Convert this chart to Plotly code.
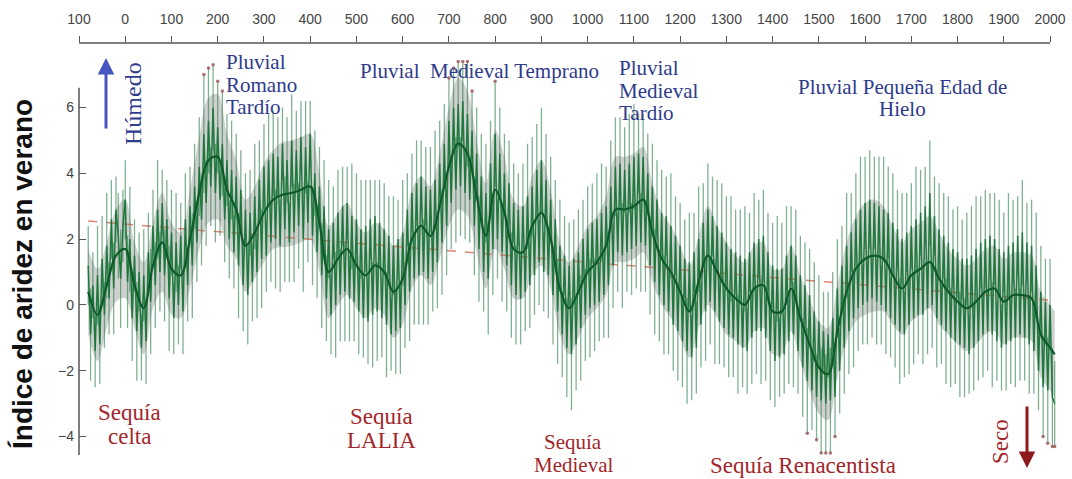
import plotly.graph_objects as go

# ---------------- data ----------------
years = list(range(-80, 2011, 5))
aridity = [
    1.2, -0.9, 0.6, -1.4, 0.9, -1.2, 1.4, -0.3, 1.8, 0.2, 2.6, 0.5, 2.9, 2.1, 0.8, 2.4, 3.2, 0.7, 2.0, -0.4,
    1.5, -0.8, 1.0, -1.3, 0.9, -1.1, 1.6, 0.1, 2.4, 0.6, 2.9, 1.0, 3.1, 0.9, 2.6, 0.2, 2.2, -0.4, 1.9, 0.0,
    2.1, -0.2, 2.6, 0.6, 3.0, 1.2, 3.6, 1.9, 4.2, 2.6, 5.2, 3.1, 5.6, 3.6, 6.0, 3.4, 5.4, 3.2, 4.9, 2.6,
    4.4, 2.0, 4.1, 1.6, 3.9, 1.2, 3.5, 0.6, 2.9, 0.3, 2.8, 0.7, 3.3, 1.0, 3.8, 1.4, 4.2, 1.5, 4.4, 1.9,
    4.6, 2.0, 4.5, 1.8, 4.9, 2.3, 4.4, 1.9, 5.0, 2.2, 4.7, 2.4, 5.1, 2.0, 4.8, 2.5, 5.2, 2.1, 4.0, 1.6,
    3.6, 0.9, 3.0, 0.2, 2.3, -0.3, 2.5, 0.0, 2.8, 0.3, 3.0, 0.4, 3.1, 0.2, 2.7, 0.1, 2.6, -0.2, 2.3, -0.4,
    2.4, -0.5, 2.6, -0.3, 2.7, -0.2, 2.5, -0.4, 2.3, -0.6, 2.1, -0.9, 1.8, -0.8, 2.0, -0.7, 2.2, 0.0, 2.9, 0.4,
    3.4, 0.8, 3.7, 0.9, 3.9, 1.0, 3.6, 0.8, 3.5, 1.0, 3.8, 1.3, 4.3, 1.9, 4.9, 2.4, 5.6, 3.1, 6.0, 3.5,
    6.1, 3.6, 6.2, 3.4, 5.8, 3.2, 5.3, 2.4, 4.6, 1.7, 3.9, 1.0, 3.4, 0.8, 4.3, 1.7, 5.2, 2.0, 4.6, 1.6,
    4.0, 1.2, 3.7, 0.6, 3.1, 0.3, 2.9, 0.2, 3.0, 0.4, 3.3, 0.6, 3.6, 0.9, 4.1, 1.3, 4.4, 1.0, 3.8, 0.9,
    3.2, 0.3, 2.6, -0.2, 1.8, -0.9, 1.5, -1.3, 1.2, -1.5, 1.4, -1.2, 1.6, -0.7, 2.0, -0.3, 2.3, -0.1, 2.5, 0.0,
    2.6, 0.1, 2.8, 0.3, 3.0, 0.6, 3.6, 1.2, 4.2, 1.6, 4.3, 1.5, 4.1, 1.6, 4.3, 1.7, 4.5, 1.8, 4.6, 1.9,
    4.5, 1.8, 4.0, 1.2, 3.6, 0.7, 3.2, 0.3, 2.8, 0.0, 2.7, -0.2, 2.4, -0.6, 2.1, -0.8, 1.8, -1.1, 1.4, -1.4,
    1.3, -1.6, 1.6, -1.3, 2.0, -0.6, 2.5, -0.2, 2.9, 0.1, 2.7, -0.2, 2.4, -0.5, 2.2, -0.7, 1.9, -0.9, 1.7, -1.0,
    1.6, -1.2, 1.5, -1.3, 1.4, -1.4, 1.6, -1.0, 1.9, -0.8, 2.0, -0.8, 2.1, -1.0, 1.6, -1.4, 1.2, -1.7, 1.1, -1.6,
    1.1, -1.5, 1.5, -1.1, 1.8, -0.9, 1.5, -1.4, 0.9, -1.9, 0.6, -2.3, 0.3, -2.6, -0.2, -2.8, -0.5, -2.9, -0.8, -3.0,
    -0.9, -2.9, -0.4, -2.8, 0.5, -2.0, 1.2, -1.3, 1.8, -0.8, 2.2, -0.4, 2.6, -0.1, 2.9, 0.0, 3.1, 0.1, 3.2, 0.2,
    3.1, 0.1, 3.0, 0.0, 2.9, -0.2, 2.8, -0.4, 2.5, -0.6, 2.3, -0.8, 2.0, -0.9, 2.2, -0.6, 2.4, -0.4, 2.6, -0.3,
    2.8, -0.3, 3.0, -0.1, 3.4, 0.0, 2.7, -0.4, 2.3, -0.6, 2.1, -0.8, 1.9, -1.0, 1.7, -1.1, 1.6, -1.2, 1.4, -1.3,
    1.4, -1.5, 1.5, -1.3, 1.7, -1.1, 1.9, -0.9, 2.0, -0.8, 2.1, -0.9, 2.0, -1.1, 1.7, -1.3, 1.6, -1.2, 1.8, -1.1,
    1.9, -1.0, 2.1, -0.9, 2.2, -1.0, 1.9, -1.2, 1.8, -1.4, 1.2, -2.0, 0.4, -2.5, 0.1, -2.6, 0.0, -2.8, -3.0,
]
uncert = [
    1.2, 1.4, 1.0, 1.1, 1.5, 1.2, 1.3, 1.0, 1.6, 1.1, 1.2, 1.4, 1.0, 1.3, 1.5, 1.1, 1.2, 1.4, 1.6, 1.3,
    1.1, 1.5, 1.2, 1.0, 1.4, 1.3, 1.2, 1.6, 1.1, 1.3, 1.5, 1.2, 1.0, 1.4, 1.2, 1.6, 1.3, 1.1, 1.5, 1.2,
    1.0, 1.3, 1.4, 1.1, 1.2, 1.6, 1.3, 1.2, 1.5, 1.4, 1.8, 1.3, 1.6, 1.2, 1.3, 1.5, 1.4, 1.1, 1.6, 1.3,
    1.4, 1.2, 1.5, 1.1, 1.3, 1.6, 1.2, 1.4, 1.1, 1.5, 1.3, 1.2, 1.6, 1.4, 1.2, 1.5, 1.3, 1.1, 1.4, 1.2,
    1.3, 1.5, 1.2, 1.4, 1.1, 1.6, 1.3, 1.2, 1.4, 1.5, 1.2, 1.3, 1.1, 1.6, 1.4, 1.2, 1.0, 1.5, 1.3, 1.4,
    1.2, 1.6, 1.4, 1.3, 1.5, 1.2, 1.1, 1.6, 1.3, 1.4, 1.2, 1.5, 1.1, 1.3, 1.6, 1.2, 1.4, 1.3, 1.5, 1.2,
    1.4, 1.3, 1.2, 1.6, 1.1, 1.5, 1.3, 1.2, 1.4, 1.6, 1.2, 1.1, 1.5, 1.3, 1.2, 1.4, 1.6, 1.3, 1.1, 1.5,
    1.2, 1.4, 1.3, 1.5, 1.1, 1.6, 1.2, 1.4, 1.3, 1.2, 1.5, 1.4, 1.3, 1.6, 1.2, 1.5, 1.3, 1.4, 1.2, 1.6,
    1.3, 1.5, 1.2, 1.4, 1.6, 1.3, 1.2, 1.5, 1.4, 1.6, 1.3, 1.2, 1.5, 1.7, 1.3, 1.4, 1.6, 1.2, 1.4, 1.5,
    1.2, 1.4, 1.3, 1.6, 1.2, 1.5, 1.1, 1.4, 1.3, 1.2, 1.6, 1.3, 1.5, 1.2, 1.4, 1.3, 1.6, 1.2, 1.4, 1.3,
    1.3, 1.5, 1.2, 1.6, 1.4, 1.3, 1.2, 1.5, 1.3, 1.7, 1.2, 1.4, 1.3, 1.6, 1.2, 1.4, 1.3, 1.5, 1.2, 1.4,
    1.4, 1.2, 1.5, 1.3, 1.2, 1.6, 1.4, 1.3, 1.5, 1.2, 1.4, 1.6, 1.3, 1.2, 1.5, 1.4, 1.6, 1.3, 1.2, 1.5,
    1.3, 1.4, 1.2, 1.5, 1.3, 1.6, 1.2, 1.4, 1.3, 1.5, 1.2, 1.3, 1.6, 1.4, 1.2, 1.5, 1.3, 1.4, 1.2, 1.6,
    1.5, 1.3, 1.2, 1.4, 1.6, 1.3, 1.2, 1.5, 1.4, 1.3, 1.2, 1.6, 1.4, 1.3, 1.5, 1.2, 1.4, 1.3, 1.6, 1.2,
    1.3, 1.5, 1.4, 1.2, 1.6, 1.3, 1.2, 1.4, 1.5, 1.3, 1.2, 1.6, 1.4, 1.3, 1.2, 1.5, 1.3, 1.4, 1.6, 1.2,
    1.4, 1.2, 1.5, 1.3, 1.2, 1.6, 1.4, 1.3, 1.2, 1.5, 1.3, 1.6, 1.4, 1.2, 1.5, 1.3, 1.4, 1.6, 1.2, 1.5,
    1.3, 1.6, 1.4, 1.2, 1.5, 1.3, 1.2, 1.4, 1.6, 1.3, 1.2, 1.5, 1.4, 1.3, 1.6, 1.2, 1.4, 1.3, 1.5, 1.2,
    1.4, 1.3, 1.5, 1.2, 1.6, 1.3, 1.4, 1.2, 1.5, 1.3, 1.2, 1.6, 1.4, 1.3, 1.2, 1.5, 1.3, 1.4, 1.6, 1.2,
    1.3, 1.5, 1.2, 1.4, 1.6, 1.3, 1.2, 1.5, 1.4, 1.2, 1.3, 1.6, 1.4, 1.5, 1.2, 1.3, 1.4, 1.6, 1.2, 1.5,
    1.4, 1.2, 1.5, 1.3, 1.6, 1.2, 1.4, 1.3, 1.5, 1.2, 1.3, 1.6, 1.4, 1.2, 1.5, 1.3, 1.2, 1.4, 1.6, 1.3,
    1.3, 1.5, 1.2, 1.4, 1.6, 1.3, 1.2, 1.5, 1.4, 1.3, 1.6, 1.2, 1.4, 1.5, 1.3, 1.6, 1.4, 1.5, 1.3,
]
smooth_years = list(range(-80, 2001, 20)) + [2010]
smooth = [
    0.4, -0.3, 0.6, 1.5, 1.7, 0.6, -0.1, 1.2, 1.9, 1.1,
    0.9, 2.0, 3.4, 4.4, 4.5, 3.5, 2.9, 1.8, 2.2, 2.8,
    3.2, 3.35, 3.4, 3.5, 3.6, 2.5, 1.0, 1.4, 1.7, 1.2,
    0.9, 1.2, 1.0, 0.4, 0.8, 2.0, 2.4, 2.1, 3.0, 4.2,
    4.9, 4.6, 3.3, 2.1, 3.5, 2.8, 1.7, 1.6, 2.4, 2.8,
    2.0, 0.5, -0.1, 0.4, 1.0, 1.3, 1.8, 2.9, 2.9, 3.0,
    3.2, 2.2, 1.4, 1.0, 0.4, -0.2, 0.7, 1.5, 1.0, 0.5,
    0.2, 0.0, 0.5, 0.6, -0.2, -0.2, 0.5, -0.4, -1.2, -1.9,
    -2.1, -0.8, 0.4, 1.1, 1.4, 1.5, 1.4, 0.9, 0.5, 0.9,
    1.1, 1.3, 0.8, 0.4, 0.1, -0.1, 0.1, 0.4, 0.5, 0.1,
    0.3, 0.3, 0.2, -0.9, -1.3, -1.5,
]
band_half = [
    1.3, 1.4, 1.3, 1.4, 1.5, 1.3, 1.4, 1.3, 1.5, 1.4,
    1.3, 1.5, 1.7, 1.9, 1.9, 1.7, 1.5, 1.4, 1.4, 1.5,
    1.5, 1.6, 1.6, 1.6, 1.6, 1.5, 1.4, 1.4, 1.4, 1.3,
    1.3, 1.3, 1.3, 1.4, 1.4, 1.5, 1.5, 1.5, 1.6, 1.8,
    2.0, 1.9, 1.7, 1.6, 1.8, 1.7, 1.5, 1.4, 1.5, 1.6,
    1.5, 1.4, 1.4, 1.4, 1.4, 1.4, 1.5, 1.6, 1.6, 1.6,
    1.6, 1.5, 1.4, 1.4, 1.4, 1.4, 1.4, 1.5, 1.4, 1.4,
    1.3, 1.3, 1.3, 1.3, 1.3, 1.3, 1.3, 1.3, 1.4, 1.4,
    1.4, 1.4, 1.5, 1.6, 1.7, 1.7, 1.6, 1.5, 1.4, 1.4,
    1.4, 1.4, 1.4, 1.3, 1.3, 1.3, 1.3, 1.3, 1.3, 1.3,
    1.3, 1.3, 1.3, 1.3, 1.3, 1.3,
]
trend_years = [-80, 2010]
trend_vals = [2.55, 0.13]
tick_years = list(range(-100, 2001, 100))
tick_labels = ["100"] + [str(y) for y in range(0, 2001, 100)]
y_ticks = [-4, -2, 0, 2, 4, 6]

assert len(years) == len(aridity) == len(uncert)
assert len(smooth_years) == len(smooth) == len(band_half)

# ---------------- figure ----------------
L, R, T, B = 79, 15, 43, 24
W, H = 1072, 479
PW, PH = W - L - R, H - T - B


def P(px, py):
    return (px - L) / PW, (H - B - py) / PH


fig = go.Figure()

band_hi = [s + h for s, h in zip(smooth, band_half)]
band_lo = [s - h for s, h in zip(smooth, band_half)]
fig.add_trace(go.Scatter(x=smooth_years, y=band_hi, mode="lines", line=dict(width=0, shape="spline"),
                         showlegend=False, hoverinfo="skip"))
fig.add_trace(go.Scatter(x=smooth_years, y=band_lo, mode="lines", line=dict(width=0, shape="spline"),
                         fill="tonexty", fillcolor="rgba(150,150,150,0.45)", showlegend=False, hoverinfo="skip"))

# trend (drawn under the green marks)
fig.add_trace(go.Scatter(x=trend_years, y=trend_vals, mode="lines",
                         line=dict(color="rgba(215,120,100,0.9)", width=1.5, dash="dash"), showlegend=False))

# annual uncertainty spikes
sx, sy = [], []
for yr, v, e in zip(years, aridity, uncert):
    sx += [yr, yr, None]
    sy += [v - e, v + e, None]
fig.add_trace(go.Scatter(x=sx, y=sy, mode="lines", line=dict(color="rgba(45,125,75,0.6)", width=1.3),
                         showlegend=False, hoverinfo="skip"))

# annual series
fig.add_trace(go.Scatter(x=years, y=aridity, mode="lines", line=dict(color="rgba(18,115,50,0.9)", width=1.5),
                         showlegend=False))

# smoothed
fig.add_trace(go.Scatter(x=smooth_years, y=smooth, mode="lines",
                         line=dict(color="rgb(14,90,42)", width=2.2, shape="spline"), showlegend=False))

# tip dots on extreme values
dx, dy = [], []
for yr, v, e in zip(years, aridity, uncert):
    if v + e >= 6.5:
        dx.append(yr); dy.append(v + e)
    if v - e <= -3.9:
        dx.append(yr); dy.append(v - e)
fig.add_trace(go.Scatter(x=dx, y=dy, mode="markers", marker=dict(size=3.5, color="rgba(160,90,90,0.85)"),
                         showlegend=False, cliponaxis=False))

blue = "#2e3a8c"
red = "#a3262a"
serif = "Liberation Serif"
ann = []


def text(px, lines_y, lines, color, xanchor="center", angle=0, size=21):
    for py, t in zip(lines_y, lines):
        x, y = P(px, py)
        ann.append(dict(x=x, y=y, xref="paper", yref="paper", text=t, showarrow=False,
                        xanchor=xanchor, yanchor="middle", textangle=angle,
                        font=dict(family=serif, size=size, color=color)))


text(224, [62, 85, 107], ["Pluvial", "Romano", "Tardío"], blue, xanchor="left")
text(479, [71], ["Pluvial  Medieval Temprano"], blue)
text(617, [68, 91, 113], ["Pluvial", "Medieval", "Tardío"], blue, xanchor="left")
text(902, [87, 109], ["Pluvial Pequeña Edad de", "Hielo"], blue)
text(133, [104], ["Húmedo"], blue, angle=-90, size=24)
text(129, [412, 436], ["Sequía", "celta"], red, size=23)
text(381, [416, 440], ["Sequía", "LALIA"], red, size=23)
text(573, [442, 465], ["Sequía", "Medieval"], red, size=21)
text(803, [465], ["Sequía Renacentista"], red, size=23)
text(1000, [442], ["Seco"], red, angle=-90, size=23)

# arrows
hx, hy = P(106, 58)
ann.append(dict(x=hx, y=hy, xref="paper", yref="paper", ax=0, ay=72, text="", showarrow=True,
                arrowhead=2, arrowsize=1.1, arrowwidth=3, arrowcolor="#4655c0"))
hx, hy = P(1027, 468)
ann.append(dict(x=hx, y=hy, xref="paper", yref="paper", ax=0, ay=-63, text="", showarrow=True,
                arrowhead=2, arrowsize=1.1, arrowwidth=3, arrowcolor="#8e1b1b"))

# y-axis title
tx, ty = P(22, 274)
ann.append(dict(x=tx, y=ty, xref="paper", yref="paper", text="Índice de aridez en verano", showarrow=False,
                textangle=-90, xanchor="center", yanchor="middle",
                font=dict(family="Liberation Sans", size=28, color="#111111", weight="bold")))

y_top = 7.96
y_bot = -4.56
shapes = [
    dict(type="line", xref="x", yref="paper", x0=-100, x1=2000, y0=1, y1=1,
         line=dict(color="#555555", width=1.5)),
    dict(type="line", xref="paper", yref="y", x0=0, x1=0, y0=y_bot, y1=6.6,
         line=dict(color="#555555", width=1.5)),
]

fig.update_layout(
    width=W, height=H,
    margin=dict(l=L, r=R, t=T, b=B, autoexpand=False),
    paper_bgcolor="white", plot_bgcolor="white",
    showlegend=False,
    annotations=ann,
    shapes=shapes,
    xaxis=dict(range=[-100, 2015], side="top", tickmode="array", tickvals=tick_years, ticktext=tick_labels,
               ticks="outside", ticklen=6, tickcolor="#555555", tickwidth=1.2, showline=False, showgrid=False,
               zeroline=False, automargin=False,
               tickfont=dict(family="Liberation Sans", size=14, color="#444444"),
               ticklabelstandoff=6),
    yaxis=dict(range=[y_bot, y_top], tickmode="array", tickvals=y_ticks,
               ticktext=[str(v).replace("-", "\u2212") for v in y_ticks],
               ticks="inside", ticklen=7, tickcolor="#555555", tickwidth=1.2, showline=False, showgrid=False,
               zeroline=False, automargin=False,
               tickfont=dict(family="Liberation Sans", size=14, color="#444444"),
               ticklabelstandoff=4),
)

fig.write_html("out.html", config={"displayModeBar": False},
               post_script="document.body.style.margin='0';document.body.style.overflow='hidden';")
